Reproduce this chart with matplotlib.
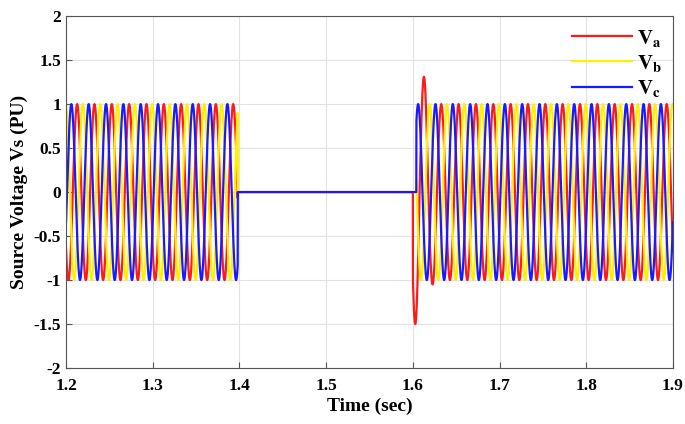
import numpy as np
import matplotlib
matplotlib.use("Agg")
import matplotlib.pyplot as plt

# signal parameters
T_START, T_END = 1.2, 1.9
FREQ = 50.0                          # Hz
PHASE_NAMES = ["a", "b", "c"]
PHASE_DEG = [220.0, 100.0, -20.0]    # phase angle at t = 1.2 s
COLORS = ["#ff1a1a", "#fff000", "#1a1aff"]
FAULT_START = 1.398                  # supply lost
RESTART = [1.600, 1.604, 1.604]      # each phase reconnects
VA_HALF_CYCLE_PEAKS = [1.5, 1.31, 1.05]  # transient overshoot of Va after reconnect

X_TICKS = [1.2, 1.3, 1.4, 1.5, 1.6, 1.7, 1.8, 1.9]
Y_TICKS = [-2, -1.5, -1, -0.5, 0, 0.5, 1, 1.5, 2]


def phase_voltage(t, idx):
    theta = 2 * np.pi * FREQ * (t - T_START) + np.deg2rad(PHASE_DEG[idx])
    v = np.sin(theta)
    if idx == 0:
        # scale the first half cycles after reconnect
        theta0 = 2 * np.pi * FREQ * (RESTART[0] - T_START) + np.deg2rad(PHASE_DEG[0])
        half0 = np.floor(theta0 / np.pi)
        half = np.floor(theta / np.pi) - half0
        amp = np.ones_like(t)
        for k, pk in enumerate(VA_HALF_CYCLE_PEAKS):
            amp[(half == k) & (t >= RESTART[0])] = pk
        v = v * amp
    off = (t >= FAULT_START) & (t < RESTART[idx])
    v[off] = 0.0
    return v


t = np.arange(T_START, T_END + 1e-6, 1e-5)

plt.rcParams["font.family"] = ["Liberation Serif", "DejaVu Serif"]
plt.rcParams["mathtext.fontset"] = "stix"

fig = plt.figure(figsize=(6.85, 4.24), dpi=100)
ax = fig.add_axes([0.0964, 0.132, 0.886, 0.830])

for i, name in enumerate(PHASE_NAMES):
    ax.plot(t, phase_voltage(t, i), color=COLORS[i], linewidth=1.6,
            label=r"$\mathbf{V_%s}$" % name)

ax.set_xlim(T_START, T_END)
ax.set_ylim(-2, 2)
ax.set_xticks(X_TICKS)
ax.set_yticks(Y_TICKS)
ax.set_xticklabels([f"{x:g}" for x in X_TICKS])
ax.set_yticklabels([f"{y:g}" for y in Y_TICKS])
ax.grid(color="#e2e2e2", linewidth=0.8)
ax.tick_params(direction="in", labelsize=12.5, length=4, color="#555555")
ax.tick_params(axis="x", pad=7)
for lab in ax.get_xticklabels() + ax.get_yticklabels():
    lab.set_fontweight("bold")
for sp in ax.spines.values():
    sp.set_color("#555555")

ax.set_xlabel("Time (sec)", fontsize=14, fontweight="bold", labelpad=3)
ax.set_ylabel("Source Voltage Vs (PU)", fontsize=14, fontweight="bold", labelpad=4)

ax.legend(loc="upper right", frameon=False, fontsize=15, handlelength=2.9,
          labelspacing=0.2, borderaxespad=0.25, handletextpad=0.2,
          borderpad=0.3)

fig.savefig("out.png", dpi=100)
